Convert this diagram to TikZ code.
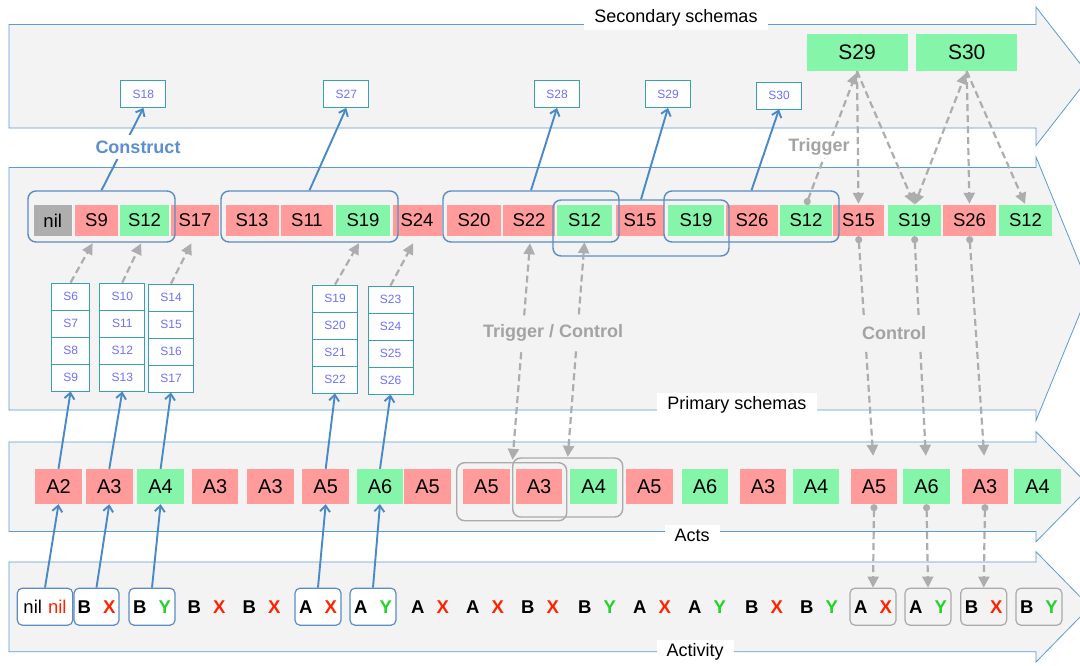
\documentclass[tikz,border=0pt]{standalone}
\usepackage{fontspec}
\setmainfont{Liberation Sans}
\usetikzlibrary{arrows.meta,calc}
\definecolor{bandfill}{HTML}{F3F3F3}
\definecolor{bandline}{HTML}{5B9BD5}
\definecolor{cellred}{HTML}{FF9B9B}
\definecolor{cellgreen}{HTML}{85F5A9}
\definecolor{cellgray}{HTML}{AEAEAE}
\definecolor{arrblue}{HTML}{4A89C8}
\definecolor{grpblue}{HTML}{5A8CC6}
\definecolor{dashgray}{HTML}{ADADAD}
\definecolor{smallteal}{HTML}{3AA0AE}
\definecolor{smalltext}{HTML}{6F6FFF}
\definecolor{xred}{HTML}{FF2200}
\definecolor{ygreen}{HTML}{22D42A}
\definecolor{lblblue}{HTML}{5B8FD0}
\definecolor{lblgray}{HTML}{A3A3A3}
\definecolor{boxgray}{HTML}{AAAAAA}
\newcommand\TokX[1]{\textbf{#1}\hspace{12pt}\textbf{\textcolor{xred}{X}}}
\newcommand\TokY[1]{\textbf{#1}\hspace{12pt}\textbf{\textcolor{ygreen}{Y}}}
\begin{document}
\begin{tikzpicture}[x=1pt,y=-1pt,
  band/.style={fill=bandfill,draw=bandline,line width=0.8pt},
  bandlabel/.style={fill=white,font=\fontsize{18}{20}\selectfont,inner xsep=10pt,inner ysep=4pt},
  cell/.style={minimum height=31pt,inner sep=0pt,font=\fontsize{18.5}{20}\selectfont,text=black},
  act/.style={minimum height=35pt,minimum width=46.5pt,inner sep=0pt,font=\fontsize{20}{22}\selectfont,text=black},
  sbox/.style={draw=smallteal,fill=white,line width=0.9pt,text=smalltext,font=\fontsize{12}{13}\selectfont,inner sep=0pt,minimum height=27pt},
  bigs/.style={fill=cellgreen,minimum width=101pt,minimum height=37pt,inner sep=0pt,font=\fontsize{21}{23}\selectfont},
  grp/.style={draw=grpblue,line width=1.4pt,rounded corners=8pt,inner sep=0pt},
  gbox/.style={draw=boxgray,line width=1.4pt,rounded corners=8pt,inner sep=0pt},
  tokbox/.style={draw=grpblue,fill=white,line width=1.2pt,rounded corners=5pt,minimum height=37pt,inner sep=0pt,font=\fontsize{18.5}{20}\selectfont},
  tokgray/.style={tokbox,draw=boxgray,fill=none},
  tok/.style={inner sep=0pt,minimum height=37pt,font=\fontsize{18.5}{20}\selectfont},
  barr/.style={draw=arrblue,line width=1.9pt,-{Straight Barb[length=6pt,width=10pt]}},
  gdash/.style={draw=dashgray,line width=2.2pt,dash pattern=on 7pt off 4pt,-{Triangle[length=11pt,width=11pt]}},
  gdot/.style={draw=dashgray,line width=2.2pt,dash pattern=on 7pt off 4pt,{Circle[length=7pt]}-{Triangle[length=11pt,width=11pt]}},
  gboth/.style={draw=dashgray,line width=2.2pt,dash pattern=on 7pt off 4pt,{Triangle[length=11pt,width=11pt]}-{Triangle[length=11pt,width=11pt]}},
  biglbl/.style={font=\bfseries\fontsize{18}{20}\selectfont,inner xsep=3pt,inner ysep=6pt}
]
\useasboundingbox (0,0) rectangle (1080,665);
\clip (0,0) rectangle (1080,665);
\fill[white] (0,0) rectangle (1080,665);

% bands
\path[band] (9,24.5) -- (1036,24.5) -- (1036,7) -- (1090,76.25) -- (1036,145.5) -- (1036,128) -- (9,128) -- cycle;
\path[band] (9,167.5) -- (1036,167.5) -- (1036,157) -- (1090,288.75) -- (1036,420.5) -- (1036,410) -- (9,410) -- cycle;
\path[band] (9,442) -- (1036,442) -- (1036,431.7) -- (1090,486.75) -- (1036,541.8) -- (1036,531.5) -- (9,531.5) -- cycle;
\path[band] (9,562) -- (1036,562) -- (1036,551.7) -- (1090,606.85) -- (1036,662) -- (1036,651.7) -- (9,651.7) -- cycle;

\node[bandlabel] (lsec) at (676,18) {Secondary schemas};
\node[bandlabel] (lprim) at (737,405) {Primary schemas};
\node[bandlabel] (lacts) at (692,535) {Acts};
\node[bandlabel] (lactv) at (695,652) {Activity};

% secondary schemas
\node[sbox,minimum width=45pt] (S18) at (143.4,94) {S18};
\node[sbox,minimum width=45pt] (S27) at (346.3,94) {S27};
\node[sbox,minimum width=45pt] (S28) at (557,94) {S28};
\node[sbox,minimum width=45pt] (S29) at (668,94) {S29};
\node[sbox,minimum width=45pt] (S30) at (779,95.5) {S30};
\node[bigs] (B29) at (857,52.5) {S29};
\node[bigs] (B30) at (966.7,52.5) {S30};

% primary schema row
\foreach \n/\x/\w/\cc/\lab in {1/52.75/38.5/cellgray/nil,2/96.5/43/cellred/S9,3/144.5/49/cellgreen/S12,
  4/195/48/cellred/S17,5/252/53/cellred/S13,6/307/52/cellred/S11,7/363/54/cellgreen/S19,
  8/417/49/cellred/S24,9/474/54/cellred/S20,10/529/52/cellred/S22,11/584.5/55/cellgreen/S12,
  12/640/48/cellred/S15,13/696/56/cellgreen/S19,14/752/52/cellred/S26,15/806/52/cellgreen/S12,
  16/858.5/51/cellred/S15,17/914.5/53/cellgreen/S19,18/969.5/53/cellred/S26,19/1025.5/53/cellgreen/S12}
  \node[cell,fill=\cc,minimum width=\w pt] (p\n) at (\x,220.5) {\lab};

% stacks of primary schemas
\foreach \s/\x/\w/\dy/\la/\lb/\lc/\ld in {1/70.6/38/0/S6/S7/S8/S9,2/122.3/45/0/S10/S11/S12/S13,
  3/171/45/1/S14/S15/S16/S17,4/335/45/2/S19/S20/S21/S22,5/390.5/45/3/S23/S24/S25/S26}{
  \node[sbox,minimum width=\w pt] (s\s a) at (\x,296.5+\dy) {\la};
  \node[sbox,minimum width=\w pt] (s\s b) at (\x,323.5+\dy) {\lb};
  \node[sbox,minimum width=\w pt] (s\s c) at (\x,350.5+\dy) {\lc};
  \node[sbox,minimum width=\w pt] (s\s d) at (\x,377.5+\dy) {\ld};
}

% group boxes
\node[grp,minimum width=147pt,minimum height=51pt] (G1) at (101.5,216.5) {};
\node[grp,minimum width=177pt,minimum height=51pt] (G2) at (309.5,216.5) {};
\node[grp,minimum width=176pt,minimum height=51pt] (GA) at (531,216.5) {};
\node[grp,minimum width=176pt,minimum height=56pt] (GB) at (641,228) {};
\node[grp,minimum width=175pt,minimum height=51pt] (GC) at (751.5,216.5) {};

% acts row
\foreach \n/\x/\cc/\lab in {1/58.5/cellred/A2,2/109.3/cellred/A3,3/160.6/cellgreen/A4,4/215/cellred/A3,
  5/270.4/cellred/A3,6/325.7/cellred/A5,7/380/cellgreen/A6,8/427.5/cellred/A5,9/486.4/cellred/A5,
  10/539/cellred/A3,11/593.7/cellgreen/A4,12/649.3/cellred/A5,13/705/cellgreen/A6,14/763/cellred/A3,
  15/816/cellgreen/A4,16/874/cellred/A5,17/926.5/cellgreen/A6,18/985/cellred/A3,19/1037.6/cellgreen/A4}
  \node[act,fill=\cc] (a\n) at (\x,486.5) {\lab};
\node[gbox,minimum width=110pt,minimum height=58pt] (ab1) at (511.7,491.7) {};
\node[gbox,minimum width=110pt,minimum height=59pt] (ab2) at (567.7,487.5) {};

% activity row
\node[tokbox,minimum width=55.4pt] (n1) at (45,606.7) {nil\hspace{6pt}\textcolor{xred}{nil}};
\node[tokbox,minimum width=45pt] (n2) at (96.5,606.7) {\TokX{B}};
\node[tokbox,minimum width=46pt] (n3) at (152,606.7) {\TokY{B}};
\node[tok] (t1) at (206.5,606.7) {\TokX{B}};
\node[tok] (t2) at (261.5,606.7) {\TokX{B}};
\node[tokbox,minimum width=46pt] (n4) at (318,606.7) {\TokX{A}};
\node[tokbox,minimum width=46pt] (n5) at (373,606.7) {\TokY{A}};
\node[tok] (t3) at (430,606.7) {\TokX{A}};
\node[tok] (t4) at (485,606.7) {\TokX{A}};
\node[tok] (t5) at (540,606.7) {\TokX{B}};
\node[tok] (t6) at (597,606.7) {\TokY{B}};
\node[tok] (t7) at (652,606.7) {\TokX{A}};
\node[tok] (t8) at (707,606.7) {\TokY{A}};
\node[tok] (t9) at (764,606.7) {\TokX{B}};
\node[tok] (t10) at (819,606.7) {\TokY{B}};
\node[tokgray,minimum width=46pt] (g1) at (873,606.7) {\TokX{A}};
\node[tokgray,minimum width=46pt] (g2) at (928,606.7) {\TokY{A}};
\node[tokgray,minimum width=46pt] (g3) at (983.7,606.7) {\TokX{B}};
\node[tokgray,minimum width=46pt] (g4) at (1038.9,606.7) {\TokY{B}};

% blue construct arrows: activity -> acts -> stacks
\draw[barr] (n1.north) -- (a1.south);
\draw[barr] (n2.north) -- (a2.south);
\draw[barr] (n3.north) -- (a3.south);
\draw[barr] (n4.north) -- (a6.south);
\draw[barr] (n5.north) -- (a7.south);
\draw[barr] (a1.north) -- (s1d.south);
\draw[barr] (a2.north) -- (s2d.south);
\draw[barr] (a3.north) -- (s3d.south);
\draw[barr] (a6.north) -- (s4d.south);
\draw[barr] (a7.north) -- (s5d.south);
% groups -> secondary
\draw[barr] (G1.north) -- (S18.south);
\draw[barr] (G2.north) -- (S27.south);
\draw[barr] (GA.north) -- (S28.south);
\draw[barr] (GB.north) -- (S29.south);
\draw[barr] (GC.north) -- (S30.south);

% gray dashed: stacks -> row
\draw[gdash,shorten >=8pt] (s1a.north) -- (p2.south);
\draw[gdash,shorten >=8pt] (s2a.north) -- (p3.south);
\draw[gdash,shorten >=8pt] (s3a.north) -- (p4.south);
\draw[gdash,shorten >=8pt] (s4a.north) -- (p7.south);
\draw[gdash,shorten >=8pt] (s5a.north) -- (p8.south);

% trigger / control between primary and acts
\coordinate (tc1t) at ($(p10.south)+(1,7)$);
\coordinate (tc1b) at ($(a10.north west)+(-3,-9)$);
\coordinate (tc2t) at ($(p11.south)+(0,6)$);
\coordinate (tc2b) at ($(a11.north west)+(-2.5,-12)$);
\draw[gboth] (tc1t) -- (tc1b);
\draw[gboth] (tc2t) -- (tc2b);

% trigger / control with secondary
\draw[gdot,shorten >=2pt] (p15.north) -- (B29.south);
\draw[gdash,shorten >=1pt] (B29.south) -- (p16.north);
\draw[gdash,shorten >=1pt] (B29.south) -- (p17.north);
\draw[gboth,shorten >=2pt] (p17.north) -- (B30.south);
\draw[gdash,shorten >=1pt] (B30.south) -- (p18.north);
\draw[gdash,shorten >=1pt] (B30.south) -- (p19.north);

% control primary -> acts -> activity
\draw[gdot,shorten >=13pt] (p16.south) -- (a16.north);
\draw[gdot,shorten >=13pt] (p17.south) -- (a17.north);
\draw[gdot,shorten >=13pt] (p18.south) -- (a18.north);
\draw[gdot] (a16.south) -- (g1.north);
\draw[gdot] (a17.south) -- (g2.north);
\draw[gdot] (a18.south) -- (g3.north);

% labels
\node[biglbl,fill=white,text=lblblue] (lcons) at (138,147) {Construct};
\node[biglbl,fill=white,text=lblgray,inner ysep=3pt] (ltrig) at (819,147) {Trigger};
\node[biglbl,fill=bandfill,text=lblgray,inner ysep=8pt] (ltc) at (553,333) {Trigger / Control};
\node[biglbl,fill=bandfill,text=lblgray,inner ysep=8pt] (lctl) at (894,333) {Control};
\end{tikzpicture}
\end{document}
